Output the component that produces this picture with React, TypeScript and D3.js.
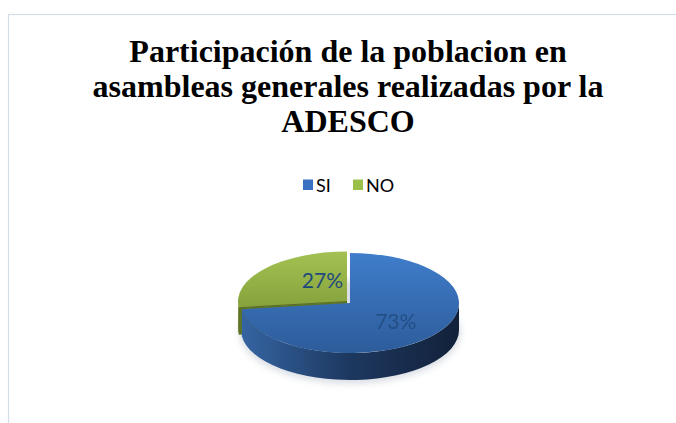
import React from "react";
import * as d3 from "d3";

const titleLines = ["Participación de la poblacion en", "asambleas generales realizadas por la", "ADESCO"];
const categories = ["SI", "NO"];
const values = [73, 27];
const labels = ["73%", "27%"];
const topColors = [["#3f7dcb", "#2d5c9a"], ["#a3c152", "#86a23c"]];
const sideColors = [["#3565a3", "#1d385f", "#12213a"], ["#6f8a2f", "#556b22"]];
const legendColors = ["#3a70c0", "#9bc04a"];

const W = 676, H = 423;
const cx = 350, cy = 303, rx = 109, ry = 50, depth = 27;
const explode = [[0, 0], [-3, -1.5]];
const labelFrac = [0.56, 0.3];
const labelNudge = [[0, 0], [0, -11]];

function pt(a: number, ox: number, oy: number, dy = 0): [number, number] {
  return [cx + ox + rx * Math.sin(a), cy + oy - ry * Math.cos(a) + dy];
}

function topPath(a0: number, a1: number, ox: number, oy: number) {
  const p0 = pt(a0, ox, oy), p1 = pt(a1, ox, oy);
  const large = a1 - a0 > Math.PI ? 1 : 0;
  return `M${cx + ox},${cy + oy}L${p0[0]},${p0[1]}A${rx},${ry} 0 ${large} 1 ${p1[0]},${p1[1]}Z`;
}

function sidePath(a0: number, a1: number, ox: number, oy: number) {
  const b0 = Math.max(a0, Math.PI / 2), b1 = Math.min(a1, 1.5 * Math.PI);
  if (b1 <= b0) return null;
  const p0 = pt(b0, ox, oy), p1 = pt(b1, ox, oy);
  const q0 = pt(b0, ox, oy, depth), q1 = pt(b1, ox, oy, depth);
  const large = b1 - b0 > Math.PI ? 1 : 0;
  return `M${p0[0]},${p0[1]}A${rx},${ry} 0 ${large} 1 ${p1[0]},${p1[1]}L${q1[0]},${q1[1]}A${rx},${ry} 0 ${large} 0 ${q0[0]},${q0[1]}Z`;
}

function radialPath(a: number, ox: number, oy: number) {
  const p = pt(a, ox, oy), q = pt(a, ox, oy, depth);
  return `M${cx + ox},${cy + oy}L${p[0]},${p[1]}L${q[0]},${q[1]}L${cx + ox},${cy + oy + depth}Z`;
}

export default function App() {
  const pie = d3.pie<number>().sort(null).value((d) => d);
  const arcs = pie(values);
  const order = [1, 0];
  return (
    <svg width={W} height={H} style={{ position: "absolute", left: 0, top: 0 }}>
      <defs>
        {arcs.map((_, i) => (
          <linearGradient key={"t" + i} id={"top" + i} x1="0" y1="0" x2="0" y2="1">
            <stop offset="0" stopColor={topColors[i][0]} />
            <stop offset="1" stopColor={topColors[i][1]} />
          </linearGradient>
        ))}
        <linearGradient id="side0" gradientUnits="userSpaceOnUse" x1={cx - rx} y1="0" x2={cx + rx} y2="0">
          <stop offset="0" stopColor={sideColors[0][0]} />
          <stop offset="0.5" stopColor={sideColors[0][1]} />
          <stop offset="1" stopColor={sideColors[0][2]} />
        </linearGradient>
        <linearGradient id="side1" x1="0" y1="0" x2="0" y2="1">
          <stop offset="0" stopColor={sideColors[1][0]} />
          <stop offset="1" stopColor={sideColors[1][1]} />
        </linearGradient>
        <filter id="shadow" x="-20%" y="-50%" width="140%" height="200%">
          <feGaussianBlur stdDeviation="3" />
        </filter>
      </defs>
      <rect x={0} y={0} width={W} height={H} fill="#ffffff" />
      <rect x={8.5} y={14.5} width={W + 20} height={H + 20} fill="#ffffff" stroke="#d3deea" strokeWidth={1.2} />
      {titleLines.map((t, i) => (
        <text key={t} x={348} y={62 + i * 35} textAnchor="middle" fontFamily="'Liberation Serif', 'Times New Roman', serif" fontWeight="bold" fontSize={32} fill="#000">
          {t}
        </text>
      ))}
      {categories.map((c, i) => {
        const lx = [303, 353][i];
        return (
          <g key={c}>
            <rect x={lx} y={179.5} width={10} height={10.5} fill={legendColors[i]} />
            <text x={lx + 13} y={191.5} fontFamily="Lato, 'Open Sans', sans-serif" fontSize={18} fill="#000">
              {c}
            </text>
          </g>
        );
      })}
      <ellipse cx={cx} cy={cy + depth + 2} rx={rx + 2} ry={ry + 2} fill="#9aa6b6" opacity={0.35} filter="url(#shadow)" />
      {order.map((i) => {
        const a = arcs[i];
        const [ox, oy] = explode[i];
        const side = sidePath(a.startAngle, a.endAngle, ox, oy);
        return (
          <g key={"s" + i}>
            {i === 1 && <path d={radialPath(a.startAngle, ox, oy)} fill="#5d7425" />}
            {side && <path d={side} fill={`url(#side${i})`} />}
            <path d={topPath(a.startAngle, a.endAngle, ox, oy)} fill={`url(#top${i})`} />
            {i === 1 && (
              <line x1={cx + ox} y1={cy + oy} x2={pt(a.startAngle, ox, oy)[0]} y2={pt(a.startAngle, ox, oy)[1]} stroke="#5a6f24" strokeWidth={1.2} />
            )}
          </g>
        );
      })}
      {arcs.map((a, i) => {
        const mid = (a.startAngle + a.endAngle) / 2;
        const f = labelFrac[i];
        const x = cx + explode[i][0] + f * rx * Math.sin(mid) + labelNudge[i][0];
        const y = cy + explode[i][1] - f * ry * Math.cos(mid) + labelNudge[i][1];
        return (
          <text key={"l" + i} x={x} y={y} dy="0.35em" textAnchor="middle" fontFamily="Lato, 'Open Sans', sans-serif" fontSize={21} fill="#1f497d" opacity={i === 0 ? 0.8 : 1}>
            {labels[i]}
          </text>
        );
      })}
    </svg>
  );
}
